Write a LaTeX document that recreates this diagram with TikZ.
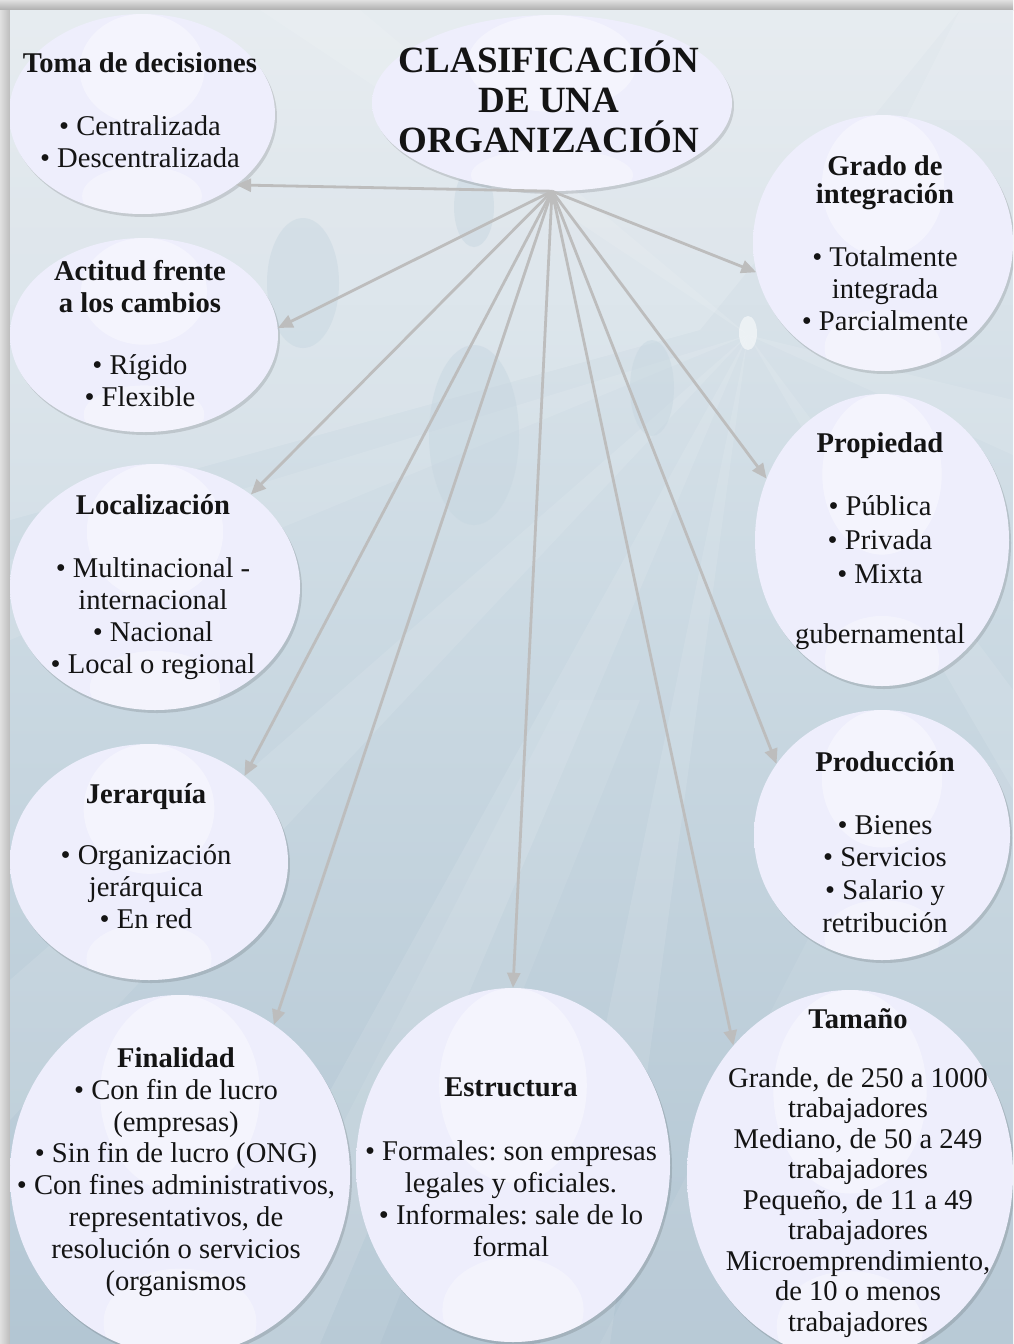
\documentclass[tikz,border=0pt]{standalone}
\usepackage{fontspec}
\setmainfont{Liberation Serif}
\usetikzlibrary{arrows.meta,shapes.geometric,shadows}
\frenchspacing

\definecolor{bgtop}{HTML}{E3E9EE}
\definecolor{bgmid}{HTML}{CCDAE3}
\definecolor{bgbot}{HTML}{B3C6D3}
\definecolor{framegray}{HTML}{D3D3D3}
\definecolor{lavedge}{HTML}{DCDCF3}
\definecolor{lavmid}{HTML}{EEEEFC}
\definecolor{arrowgray}{HTML}{BDBDBD}
\definecolor{bubblegray}{HTML}{C6D6E0}

\pgfdeclareradialshading{orgshade}{\pgfpoint{0bp}{0bp}}{%
  color(0bp)=(lavmid); color(30bp)=(lavmid); color(47bp)=(lavedge); color(50bp)=(lavedge); color(70bp)=(lavedge)}

\tikzset{
  orgbub/.style={ellipse, inner sep=0pt, shading=orgshade,
    drop shadow={shadow xshift=2pt, shadow yshift=-3pt, opacity=0.12, fill=black}},
  arr/.style={draw=arrowgray, line width=2.8pt, -{Triangle[length=15pt,width=13pt]}},
  txt/.style={align=center, text=black!92, inner sep=0pt,
    font=\fontsize{28.6}{32}\selectfont},
  glint/.style={fill=white, opacity=0.38},
  drop/.style={fill=bubblegray, opacity=0.45},
  ray/.style={fill=white, opacity=0.10}
}

% name, centre x, centre y, x radius, y radius
\newcommand\orgbubble[5]{%
  \node[orgbub, minimum width=#4*2pt, minimum height=#5*2pt] (#1) at (#2,#3) {};
  \begin{scope}
    \clip (#2,#3) ellipse [x radius=#4, y radius=#5];
    \fill[glint] ({#2},{#3-0.45*#5}) ellipse [x radius={0.47*#4}, y radius={0.55*#5}];
    \fill[glint, opacity=0.32] ({#2},{#3+0.82*#5}) ellipse [x radius={0.45*#4}, y radius={0.3*#5}];
  \end{scope}}

\begin{document}
\begin{tikzpicture}[x=1pt,y=-1pt]
\useasboundingbox (0,0) rectangle (1013,1344);

% frame
\fill[framegray] (0,0) rectangle (1013,1344);
\shade[top color=black!12, bottom color=black!32] (0,0) rectangle (1013,10);
\shade[left color=black!12, right color=black!26] (0,10) rectangle (10,1344);

\begin{scope}
  \clip (10,10) rectangle (1013,1344);
  % background
  \shade[top color=bgtop, bottom color=bgmid] (10,10) rectangle (1013,600);
  \shade[top color=bgmid, bottom color=bgbot] (10,600) rectangle (1013,1344);
  \fill[white, opacity=0.14] (10,10) -- (960,10) -- (700,330) -- (10,520) -- cycle;
  \fill[white, opacity=0.12] (960,10) -- (1013,10) -- (1013,120) -- (905,120) -- cycle;
  % light rays
  \fill[ray] (748,335) -- (10,980) -- (10,1120) -- cycle;
  \fill[ray] (748,335) -- (190,1344) -- (320,1344) -- cycle;
  \fill[ray] (748,335) -- (540,1344) -- (610,1344) -- cycle;
  \fill[ray] (748,335) -- (1013,690) -- (1013,790) -- cycle;
  \fill[ray] (748,335) -- (1013,400) -- (1013,455) -- cycle;
  \fill[ray] (748,335) -- (10,560) -- (10,640) -- cycle;
  \fill[ray] (748,335) -- (260,10) -- (360,10) -- cycle;
  \fill[white, opacity=0.08] (230,1344) -- (560,700) -- (640,700) -- (380,1344) -- cycle;
  \fill[white, opacity=0.07] (600,1344) -- (900,760) -- (1013,760) -- (1013,1344) -- cycle;
  % bubbles in the background
  \fill[drop] (303,283) ellipse [x radius=36, y radius=65];
  \fill[drop] (474,207) ellipse [x radius=20, y radius=40];
  \fill[drop] (474,435) ellipse [x radius=45, y radius=90];
  \fill[drop] (652,388) ellipse [x radius=22, y radius=48];
  \fill[drop, fill=white, opacity=0.55] (748,333) ellipse [x radius=9, y radius=17];

  % category bubbles
  \orgbubble{toma}{142}{114}{133}{100}
  \orgbubble{cen}{552}{103}{180}{88}
  \orgbubble{act}{144}{335}{134}{97}
  \orgbubble{loc}{155}{587}{145}{123}
  \orgbubble{jer}{149}{862}{139}{118}
  \orgbubble{fin}{180}{1175}{170}{180}
  \orgbubble{est}{513}{1165}{157}{177}
  \orgbubble{tam}{850}{1175}{163}{185}
  \orgbubble{pro}{882}{835}{128}{125}
  \orgbubble{prop}{882}{540}{127}{146}
  \orgbubble{gra}{883}{243}{130}{128}

  % connectors
  \draw[arr] (cen.south) -- (toma.-37);
  \draw[arr] (cen.south) -- (act.3);
  \draw[arr] (cen.south) -- (loc.44);
  \draw[arr] (cen.south) -- (jer.42);
  \draw[arr] (cen.south) -- (fin.58);
  \draw[arr] (cen.south) -- (est.90);
  \draw[arr] (cen.south) -- (tam.132);
  \draw[arr] (cen.south) -- (pro.146);
  \draw[arr] (cen.south) -- (prop.152);
  \draw[arr] (cen.south) -- (gra.-167);

  % texts
  \node[txt, font=\fontsize{37}{40}\selectfont\bfseries] (tcen) at (549,97)
    {CLASIFICACIÓN\\DE UNA\\ORGANIZACIÓN};
  \node[txt] (ttoma) at (140,110)
    {\textbf{Toma de decisiones}\\[31pt]• Centralizada\\• Descentralizada};
  \node[txt] (tact) at (140,334)
    {\textbf{Actitud frente}\\\textbf{a los cambios}\\[30pt]• Rígido\\• Flexible};
  \node[txt] (tloc) at (153,587)
    {\textbf{Localización}\\[31pt]• Multinacional -\\internacional\\• Nacional\\• Local o regional};
  \node[txt] (tjer) at (146,856)
    {\textbf{Jerarquía}\\[29pt]• Organización\\jerárquica\\• En red};
  \node[txt, font=\fontsize{28.6}{31.9}\selectfont] (tfin) at (176,1172)
    {\textbf{Finalidad}\\• Con fin de lucro\\(empresas)\\• Sin fin de lucro (ONG)\\• Con fines administrativos,\\representativos, de\\resolución o servicios\\(organismos};
  \node[txt] (test) at (511,1167)
    {\textbf{Estructura}\\[32pt]• Formales: son empresas\\legales y oficiales.\\• Informales: sale de lo\\formal};
  \node[txt, font=\fontsize{28.6}{30.5}\selectfont] (ttam) at (858,1173)
    {\textbf{Tamaño}\\[28pt]Grande, de 250 a 1000\\trabajadores\\Mediano, de 50 a 249\\trabajadores\\Pequeño, de 11 a 49\\trabajadores\\Microemprendimiento,\\de 10 o menos\\trabajadores};
  \node[txt, font=\fontsize{28.6}{32.6}\selectfont] (tpro) at (885,842)
    {\textbf{Producción}\\[30pt]• Bienes\\• Servicios\\• Salario y\\retribución};
  \node[txt, font=\fontsize{28.6}{34}\selectfont] (tprop) at (880,541)
    {\textbf{Propiedad}\\[29pt]• Pública\\• Privada\\• Mixta\\[26pt]gubernamental};
  \node[txt] (tgra) at (885,243)
    {\textbf{Grado de}\\[-4pt]\textbf{integración}\\[31pt]• Totalmente\\integrada\\• Parcialmente};
\end{scope}
\end{tikzpicture}
\end{document}
